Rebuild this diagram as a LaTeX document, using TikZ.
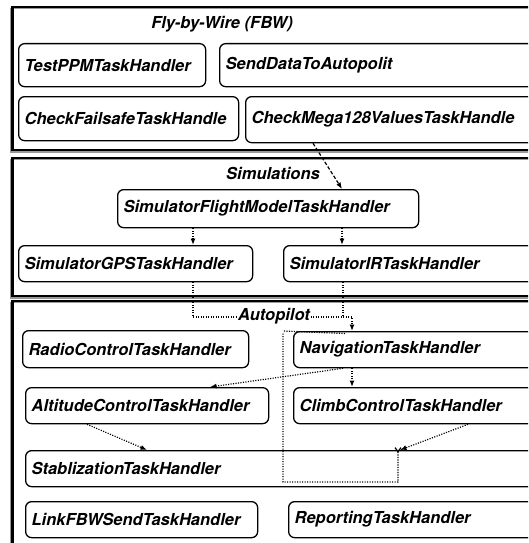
\documentclass[tikz,border=0pt]{standalone}
\usepackage{fontspec}
\setmainfont{TeX Gyre Heros}
\usetikzlibrary{arrows.meta,calc}

\tikzset{
  taskbox/.style={draw=black, line width=1.3pt, rounded corners=6pt,
    anchor=north west, inner xsep=6pt, inner ysep=0pt, align=left,
    font=\fontsize{16.5}{19}\selectfont\bfseries\itshape},
  grouptitle/.style={fill=white, inner sep=1pt,
    font=\fontsize{16.5}{19}\selectfont\bfseries\itshape},
  groupframe/.style={draw=black, line width=2.4pt},
  groupshadow/.style={draw=black!40, line width=1.6pt},
  dotflow/.style={line width=1.2pt, dash pattern=on 1.1pt off 1.4pt},
  dashflow/.style={line width=1.2pt, dash pattern=on 3.5pt off 2pt},
  tip/.style={-{Latex[length=6.5pt,width=5pt]}},
}

% task box: name, left, top, width, height, label
\newcommand\taskat[6]{%
  \node[taskbox, minimum width=#4pt, minimum height=#5pt,
        text width=#4pt-12pt] (#1) at (#2,#3) {#6};}

\begin{document}
\begin{tikzpicture}[x=1pt, y=-1pt]
\useasboundingbox (0,0) rectangle (528,543);
\clip (0,0) rectangle (528,543);

% group frames with a light shadow on the left and bottom
\foreach \ya/\yb in {7/150, 158/296, 301/570} {
  \draw[groupshadow] (10.5,\ya+1.5) rectangle (545,\yb+1.8);
  \draw[groupframe] (12.5,\ya) rectangle (545,\yb);
}

% Fly-by-Wire
\node[grouptitle] (tfbw) at (222,24) {Fly-by-Wire (FBW)};
\taskat{testppm}{18}{43}{187}{43}{TestPPMTaskHandler}
\taskat{senddata}{219}{43}{321}{43}{SendDataToAutopolit}
\taskat{failsafe}{18}{96}{220}{44}{CheckFailsafeTaskHandle}
\taskat{mega}{245}{96}{295}{46}{CheckMega128ValuesTaskHandle}

% Simulations
\node[grouptitle] (tsim) at (273,173) {Simulations};
\taskat{sfm}{117}{189}{301}{38}{SimulatorFlightModelTaskHandler}
\taskat{gps}{18}{245}{234}{36}{SimulatorGPSTaskHandler}
\taskat{ir}{283}{245}{257}{36}{SimulatorIRTaskHandler}

% Autopilot
\taskat{radio}{22}{330}{226}{37}{RadioControlTaskHandler}
\taskat{nav}{293}{331}{247}{36}{NavigationTaskHandler}
\taskat{alt}{25}{387}{243}{36}{AltitudeControlTaskHandler}
\taskat{climb}{293}{387}{247}{36}{ClimbControlTaskHandler}
\taskat{stab}{25}{450}{515}{36}{StablizationTaskHandler}
\taskat{link}{25}{501}{232}{36}{LinkFBWSendTaskHandler}
\taskat{report}{288}{501}{252}{36}{ReportingTaskHandler}

% connectors
\draw[dashflow, tip] ([xshift=68pt]mega.south west) -- ([xshift=225pt]sfm.north west);
\draw[dotflow, tip] (193,0 |- sfm.south) -- (193,0 |- gps.north);
\draw[dotflow, tip] (342,0 |- sfm.south) -- (342,0 |- ir.north);

\coordinate (join) at (343,317);
\draw[dotflow] (193,0 |- gps.south) |- (join);
\draw[dotflow, tip] (343,0 |- ir.south) -- (join) -- (352,317) -- (352,0 |- nav.north);

\draw[dotflow, tip] ([xshift=50pt]nav.south west) -- ([xshift=185pt]alt.north west);
\draw[dotflow, tip] ([xshift=59pt]nav.south west) -- ([xshift=59pt]climb.north west);
\draw[dotflow, tip] ([xshift=62pt]alt.south west) -- ([xshift=122pt]stab.north west);
\draw[dotflow, tip] ([xshift=175pt]climb.south west) -- ([xshift=375pt]stab.north west);

\coordinate (loopend) at (398,447);
\draw[dotflow, -{Straight Barb[reversed,length=4pt,width=6pt]}]
  ([xshift=52pt,yshift=-2.5pt]nav.north west) -- (283,0 |- nav.north) ++(0,2.5)
  -- (283,482) -- (398,482) -- (loopend);

\node[grouptitle] (tauto) at (274,316) {Autopilot};
\end{tikzpicture}
\end{document}
